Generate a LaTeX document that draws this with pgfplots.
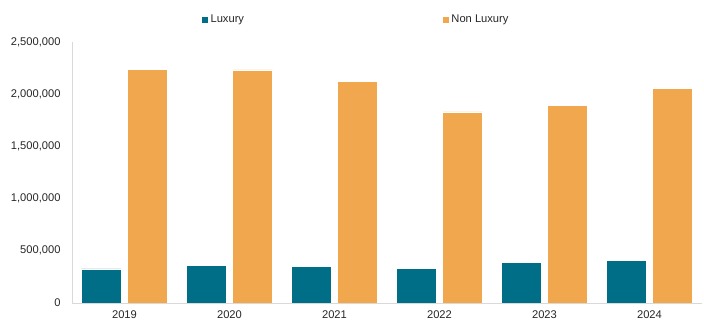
\documentclass[border=0pt]{standalone}
\usepackage{pgfplots}
\pgfplotsset{compat=1.18}
\usepackage{fontspec}
\setmainfont{Liberation Sans}
\definecolor{lux}{HTML}{006E87}
\definecolor{nonlux}{HTML}{F0A74D}
\definecolor{axgray}{HTML}{D9D9D9}
\definecolor{txt}{HTML}{262626}
\begin{document}
\begin{tikzpicture}
\useasboundingbox (0,0) rectangle (704bp,321bp);
\begin{axis}[
  at={(72bp,18bp)}, anchor=south west,
  scale only axis, width=630bp, height=261bp,
  ybar=6bp, bar width=40bp,
  xmin=-0.5, xmax=5.5, ymin=0, ymax=2500000,
  xtick=data, xticklabels={2019,2020,2021,2022,2023,2024},
  ytick={0,500000,1000000,1500000,2000000,2500000},
  scaled y ticks=false,
  /pgf/number format/fixed,
  /pgf/number format/1000 sep={,},
  /pgf/number format/assume math mode=true,
  axis x line=bottom, axis y line=left,
  axis line style={axgray, line width=1pt, -},
  major tick length=0pt,
  tick label style={font=\fontsize{11.2}{13}\selectfont, text=txt},
  yticklabel style={xshift=-8bp},
  xticklabel style={yshift=-4bp},
  legend columns=2,
  legend style={at={(0.2,1.085)}, anchor=west, draw=none, fill=none,
    font=\fontsize{11.2}{13}\selectfont, text=txt,
    /tikz/every even column/.append style={column sep=196bp}},
  legend image code/.code={\fill[#1] (0bp,-3.5bp) rectangle (7bp,3.5bp);},
]
\addplot[fill=lux, draw=white, line width=0.4pt] coordinates {(0,328000) (1,362000) (2,353000) (3,330000) (4,391000) (5,410000)};
\addplot[fill=nonlux, draw=white, line width=0.4pt] coordinates {(0,2240000) (1,2234000) (2,2125000) (3,1830000) (4,1891000) (5,2058000)};
\legend{Luxury, Non Luxury}
\end{axis}
\end{tikzpicture}
\end{document}
